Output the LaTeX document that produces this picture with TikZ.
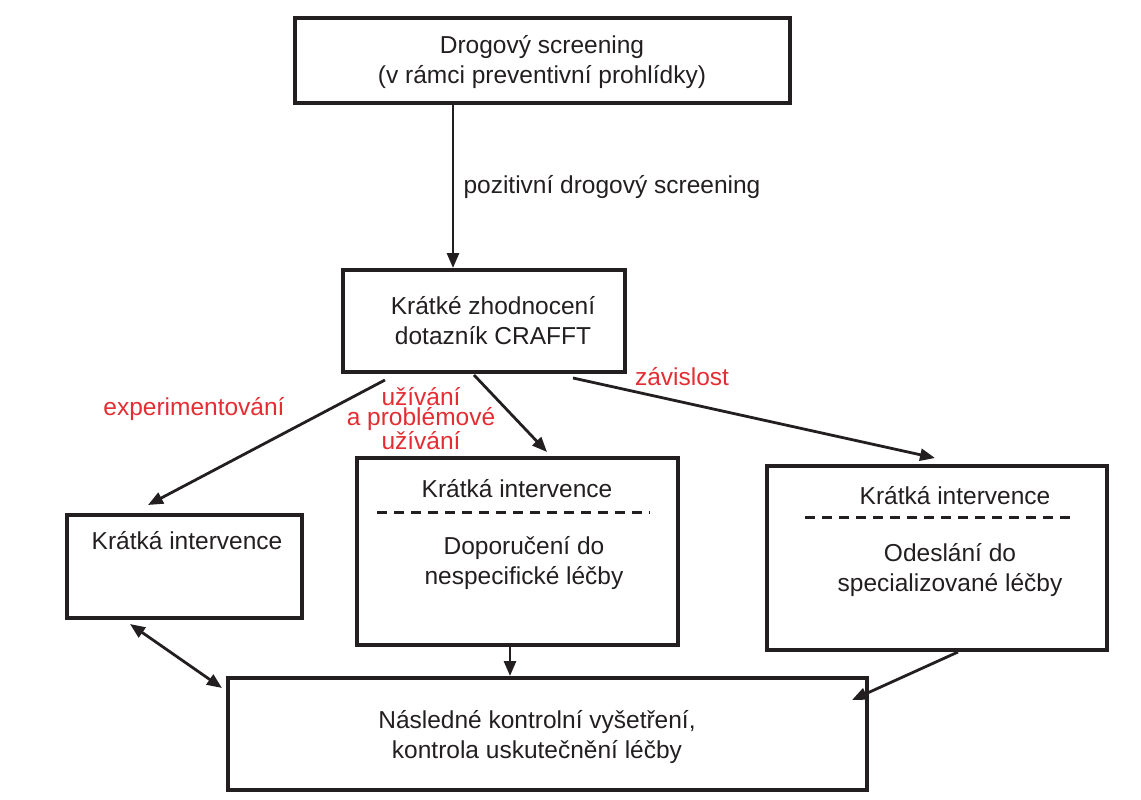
\documentclass[tikz,border=0pt]{standalone}
\usepackage{fontspec}
\setmainfont{Liberation Sans}
\usetikzlibrary{arrows.meta}
\definecolor{lab}{RGB}{228,45,50}
\definecolor{ink}{RGB}{35,31,32}
\begin{document}
\begin{tikzpicture}[x=1pt,y=-1pt,
 box/.style={draw=ink,line width=3.4pt},
 txt/.style={font=\fontsize{24.5}{30}\selectfont,text=ink,align=center},
 lbl/.style={font=\fontsize{24.5}{24}\selectfont,text=lab,align=center},
 arr/.style={draw=ink,line width=2.8pt,-{Triangle[length=15pt,width=12pt]}},
 dashln/.style={draw=ink,line width=3pt,dash pattern=on 10pt off 7pt}]
\useasboundingbox (0,0) rectangle (1141,800);
\draw[box] (295,18) rectangle (790,103);
\node[txt] (t) at (542,62) {Drogový screening\\(v rámci preventivní prohlídky)};
\draw[box] (343,270) rectangle (625,372);
\node[txt] (c) at (493,321) {Krátké zhodnocení\\dotazník CRAFFT};
\draw[box] (67,515) rectangle (302,618);
\node[txt] (l) at (187,541) {Krátká intervence};
\draw[box] (357,458) rectangle (678,645);
\node[txt] (m1) at (517,489) {Krátká intervence};
\draw[dashln] (377,512) -- (650,512);
\node[txt] (m2) at (524,563) {Doporučení do\\nespecifické léčby};
\draw[box] (767,466) rectangle (1107,650);
\node[txt] (r1) at (955,496) {Krátká intervence};
\draw[dashln] (805,517) -- (1077,517);
\node[txt] (r2) at (950,570) {Odeslání do\\specializované léčby};
\draw[box] (228,678) rectangle (867,790);
\node[txt] (b) at (537,737) {Následné kontrolní vyšetření,\\kontrola uskutečnění léčby};
\coordinate (a1) at (453,104); \coordinate (a2) at (453,268);
\draw[arr] (a1) -- (a2);
\node[txt,anchor=west] (p) at (460,187) {pozitivní drogový screening};
\coordinate (e1) at (385,380); \coordinate (e2) at (148,505);
\draw[arr] (e1) -- (e2);
\node[lbl] (le) at (194,409) {experimentování};
\coordinate (u1) at (474,375); \coordinate (u2) at (547,452);
\draw[arr] (u1) -- (u2);
\node[lbl,font=\fontsize{24.5}{20}\selectfont] (lu) at (421,419) {užívání\\a problémové\\užívání};
\coordinate (z1) at (573,378); \coordinate (z2) at (935,458);
\draw[arr] (z1) -- (z2);
\node[lbl] (lz) at (682,377) {závislost};
\coordinate (d1) at (130,624); \coordinate (d2) at (222,688);
\draw[arr,{Triangle[length=15pt,width=12pt]}-{Triangle[length=15pt,width=12pt]}] (d1) -- (d2);
\coordinate (s1) at (510,645); \coordinate (s2) at (510,676);
\draw[arr] (s1) -- (s2);
\coordinate (q1) at (958,652); \coordinate (q2) at (852,700);
\draw[arr] (q1) -- (q2);
\end{tikzpicture}
\end{document}
